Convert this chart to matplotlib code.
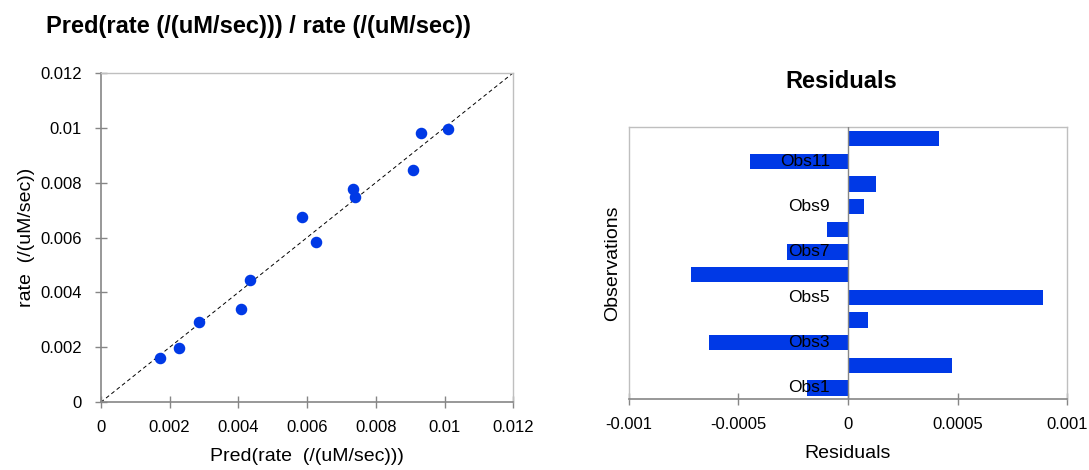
import numpy as np
import matplotlib as mpl
mpl.use("Agg")
import matplotlib.pyplot as plt

mpl.rcParams['font.family'] = ['Liberation Sans', 'DejaVu Sans']

# observations in original order (Obs1 .. Obs12)
obs = ['Obs%d' % i for i in range(1, 13)]
pred = [0.01010, 0.00932, 0.00907, 0.00739, 0.00586, 0.00407,
        0.00227, 0.00171, 0.00286, 0.00434, 0.00625, 0.00733]
rate = [0.00995, 0.00982, 0.00846, 0.00749, 0.00676, 0.00339,
        0.00199, 0.00163, 0.00294, 0.00445, 0.00584, 0.00777]
resid = [-0.000185, 0.000473, -0.000632, 0.000090, 0.000888, -0.000717,
         -0.000277, -0.000096, 0.000073, 0.000128, -0.000445, 0.000416]

xy_ticks = [0, 0.002, 0.004, 0.006, 0.008, 0.01, 0.012]
res_ticks = [-0.001, -0.0005, 0, 0.0005, 0.001]

blue = '#0039E6'
dark = '#868686'
light = '#BFBFBF'

W, H = 1089, 470
fig = plt.figure(figsize=(W / 100, H / 100), dpi=100)

# --- predicted vs observed ---
ax1 = fig.add_axes([0.0925, 0.144, 0.3789, 0.7013])
ax1.plot([0, 0.012], [0, 0.012], '--', color='k', lw=0.7, dashes=(4, 3), zorder=1)
ax1.plot(pred, rate, 'o', color=blue, markersize=7.3, mec=blue, zorder=2)
ax1.set_xlim(0, 0.012)
ax1.set_ylim(0, 0.012)
ax1.set_xticks(xy_ticks)
ax1.set_yticks(xy_ticks)
ax1.set_xticklabels(['0', '0.002', '0.004', '0.006', '0.008', '0.01', '0.012'])
ax1.set_yticklabels(['0', '0.002', '0.004', '0.006', '0.008', '0.01', '0.012'])
ax1.tick_params(direction='inout', length=8, width=1, color=dark,
                labelsize=12)
ax1.tick_params(axis='x', pad=9)
ax1.tick_params(axis='y', pad=9.5)
for s in ['left', 'bottom']:
    ax1.spines[s].set_color(dark)
    ax1.spines[s].set_linewidth(1.2)
for s in ['top', 'right']:
    ax1.spines[s].set_color(light)
    ax1.spines[s].set_linewidth(1.0)
ax1.set_xlabel('Pred(rate  (/(uM/sec)))', fontsize=14)
ax1.set_ylabel('rate  (/(uM/sec))', fontsize=14)
ax1.xaxis.set_label_coords(0.5, -0.139)
ax1.yaxis.set_label_coords(-0.159, 0.5)
fig.text(258 / W, 1 - 27 / H, 'Pred(rate (/(uM/sec))) / rate (/(uM/sec))',
         ha='center', va='center', fontsize=17, fontweight='bold')

# --- residuals ---
ax2 = fig.add_axes([0.5773, 0.1504, 0.4028, 0.5787])
ypos = np.arange(1, len(obs) + 1)
ax2.barh(ypos, resid, height=0.68, color=blue, zorder=2)
ax2.axvline(0, color=dark, lw=1.0, zorder=3)
ax2.set_xlim(-0.001, 0.001)
ax2.set_ylim(0.5, 12.5)
ax2.set_xticks(res_ticks)
ax2.set_xticklabels(['-0.001', '-0.0005', '0', '0.0005', '0.001'])
ax2.set_yticks([])
ax2.tick_params(axis='x', direction='inout', length=8, width=1, color=dark,
                labelsize=12, pad=9)
ax2.spines['bottom'].set_color(dark)
ax2.spines['bottom'].set_linewidth(1.2)
for s in ['top', 'right', 'left']:
    ax2.spines[s].set_color(light)
    ax2.spines[s].set_linewidth(1.0)
for i in range(0, len(obs), 2):
    ax2.text(-0.000082, ypos[i], obs[i], ha='right', va='center',
             fontsize=12.5, zorder=4)
ax2.set_xlabel('Residuals', fontsize=14)
ax2.set_ylabel('Observations', fontsize=14)
ax2.xaxis.set_label_coords(0.5, -0.168)
ax2.yaxis.set_label_coords(-0.0176, 0.5)
fig.text(841 / W, 1 - 82 / H, 'Residuals', ha='center', va='center',
         fontsize=17, fontweight='bold')

fig.savefig('out.png', dpi=100)
